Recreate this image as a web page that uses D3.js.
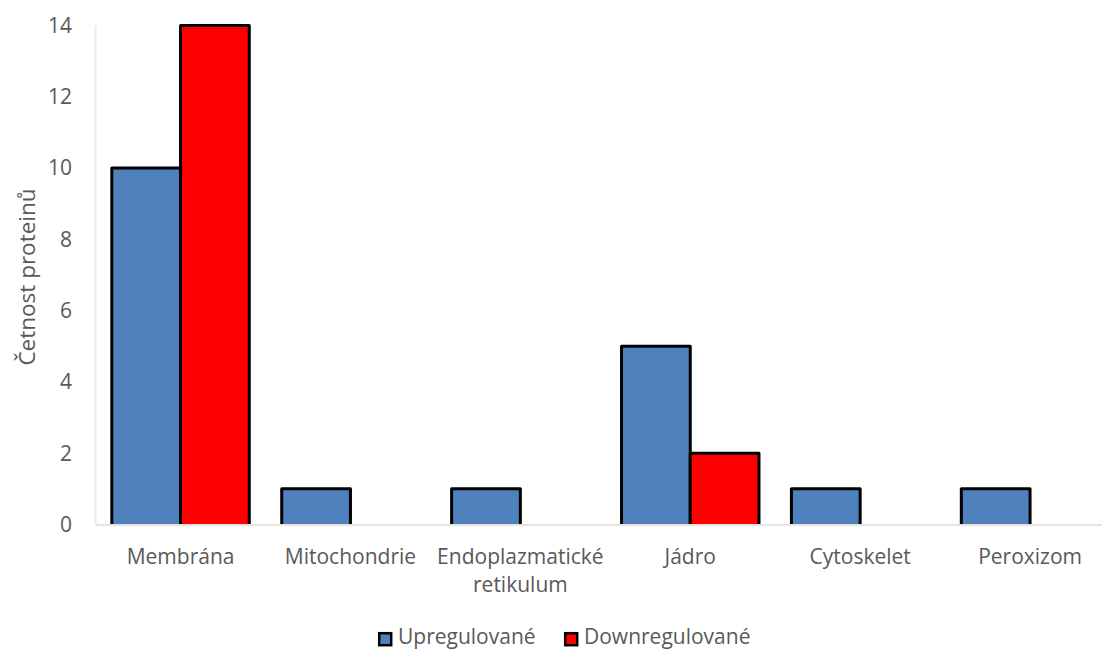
<!DOCTYPE html>
<html>
<head>
<meta charset="utf-8">
<script src="https://cdn.jsdelivr.net/npm/d3@7"></script>
<style>
  html, body { margin: 0; padding: 0; background: #fff; }
  svg text { font-family: "Open Sans", "Liberation Sans", sans-serif; fill: #595959; }
</style>
</head>
<body>
<svg id="chart" width="1102" height="649"></svg>
<script>
// Protein counts by subcellular location
const categories = [["Membrána"], ["Mitochondrie"], ["Endoplazmatické", "retikulum"], ["Jádro"], ["Cytoskelet"], ["Peroxizom"]];
const seriesNames = ["Upregulované", "Downregulované"];
const upregulated = [10, 1, 1, 5, 1, 1];
const downregulated = [14, 0, 0, 2, 0, 0];
const yTicks = [0, 2, 4, 6, 8, 10, 12, 14];
const colors = ["#4f81bd", "#ff0000"];

const svg = d3.select("#chart");
const keys = categories.map(c => c.join(" "));
const series = [upregulated, downregulated];

const x = d3.scaleBand().domain(keys).range([95.6, 1115]).paddingInner(0).paddingOuter(0);
const x1 = d3.scaleBand().domain(seriesNames).range([0, x.bandwidth()]).paddingInner(0).paddingOuter(0.236);
const y = d3.scaleLinear().domain([0, 14]).range([524.5, 25.5]);

// y tick labels
svg.append("g").selectAll("text").data(yTicks).join("text")
  .attr("x", 72).attr("y", d => y(d)).attr("dy", "0.35em")
  .attr("text-anchor", "end").style("font-size", "21px").text(d => d);

// bars: left, top and right edges outlined; the baseline is the axis
const g = svg.append("g");
keys.forEach((k, i) => {
  series.forEach((vals, s) => {
    const v = vals[i];
    if (!v) return;
    const x0 = x(k) + x1(seriesNames[s]);
    const w = x1.bandwidth();
    g.append("rect").attr("x", x0).attr("y", y(v)).attr("width", w).attr("height", y(0) - y(v))
      .attr("fill", colors[s]);
    const p = d3.path();
    p.moveTo(x0, y(0)); p.lineTo(x0, y(v)); p.lineTo(x0 + w, y(v)); p.lineTo(x0 + w, y(0));
    g.append("path").attr("d", p.toString()).attr("fill", "none")
      .attr("stroke", "#000").attr("stroke-width", 3).attr("stroke-linejoin", "round");
  });
});

// axis lines
svg.append("line").attr("x1", 95.6).attr("x2", 1102).attr("y1", y(0) + 0.5).attr("y2", y(0) + 0.5)
  .attr("stroke", "#e6e4dc").attr("stroke-width", 2);
svg.append("line").attr("x1", 95.6).attr("x2", 95.6).attr("y1", y(14)).attr("y2", y(0))
  .attr("stroke", "#ecebe4").attr("stroke-width", 2);

// category labels
const cat = svg.append("g").selectAll("text").data(categories).join("text")
  .attr("text-anchor", "middle").style("font-size", "21px")
  .attr("transform", (d, i) => `translate(${x(keys[i]) + x.bandwidth() / 2},564)`);
cat.selectAll("tspan").data(d => d).join("tspan")
  .attr("x", 0).attr("dy", (d, j) => j === 0 ? 0 : 28).text(d => d);

// y axis title
svg.append("text").attr("transform", "translate(35,277) rotate(-90)")
  .attr("text-anchor", "middle").style("font-size", "22.5px").text("Četnost proteinů");

// legend
const legend = svg.append("g").attr("transform", "translate(0,637)");
const legendX = [378, 564];
seriesNames.forEach((n, s) => {
  legend.append("rect").attr("x", legendX[s] + 1.2).attr("y", -3.8).attr("width", 12).attr("height", 12)
    .attr("fill", colors[s]).attr("stroke", "#000").attr("stroke-width", 2.5);
  legend.append("text").attr("x", legendX[s] + 20).attr("y", 0).attr("dy", "0.35em")
    .style("font-size", "21px").text(n);
});
</script>
</body>
</html>
